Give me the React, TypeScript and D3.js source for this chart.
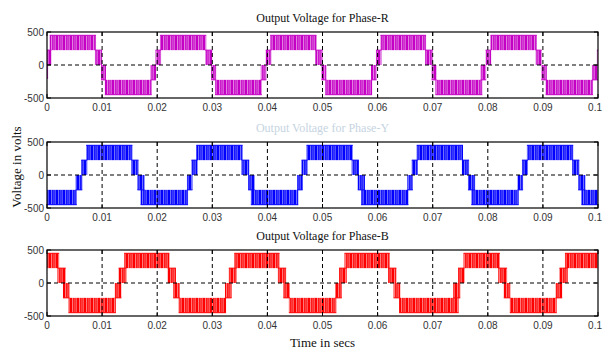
import React from "react";
import * as d3 from "d3";

type Band = [number, number, number, number]; // [t start, t end, low volts, high volts]

const timeTicks = [0, 0.01, 0.02, 0.03, 0.04, 0.05, 0.06, 0.07, 0.08, 0.09, 0.1];
const timeTickLabels = ["0", "0.01", "0.02", "0.03", "0.04", "0.05", "0.06", "0.07", "0.08", "0.09", "0.1"];
const voltTicks = [500, 0, -500];
const voltTickLabels = ["500", "0", "-500"];
const panelTitles = ["Output Voltage for Phase-R", "Output Voltage for Phase-Y", "Output Voltage for Phase-B"];
const xAxisLabel = "Time in secs";
const yAxisLabel = "Voltage in volts";

const phaseRBands: Band[] = [
  [0, 0.0002, -200, 0],
  [0, 0.0008, 0, 225],
  [0.0005, 0.0089, 225, 450],
  [0.0087, 0.01, 0, 225],
  [0.0098, 0.0107, -225, 0],
  [0.0105, 0.019, -450, -225],
  [0.0188, 0.0198, -225, 0],
  [0.0197, 0.0207, 0, 225],
  [0.0205, 0.0289, 225, 450],
  [0.0287, 0.03, 0, 225],
  [0.0298, 0.0307, -225, 0],
  [0.0305, 0.039, -450, -225],
  [0.0388, 0.0398, -225, 0],
  [0.0397, 0.0407, 0, 225],
  [0.0405, 0.0489, 225, 450],
  [0.0487, 0.05, 0, 225],
  [0.0498, 0.0507, -225, 0],
  [0.0505, 0.059, -450, -225],
  [0.0588, 0.0598, -225, 0],
  [0.0597, 0.0607, 0, 225],
  [0.0605, 0.0688, 225, 450],
  [0.0686, 0.07, 0, 225],
  [0.0698, 0.0707, -225, 0],
  [0.0705, 0.079, -450, -225],
  [0.0787, 0.0797, -225, 0],
  [0.0796, 0.0806, 0, 225],
  [0.0805, 0.0889, 225, 450],
  [0.0887, 0.0898, 0, 225],
  [0.0897, 0.0907, -225, 0],
  [0.0905, 0.0991, -450, -225],
  [0.0989, 0.1, -225, 0],
  [0.0998, 0.1, 0, 225],
];

const phaseYBands: Band[] = [
  [0, 0.0054, -450, -225],
  [0.0052, 0.0064, -225, 0],
  [0.0062, 0.0073, 0, 225],
  [0.0071, 0.0155, 225, 450],
  [0.0153, 0.0166, 0, 225],
  [0.0164, 0.0177, -225, 0],
  [0.017, 0.0256, -450, -225],
  [0.0254, 0.0264, -225, 0],
  [0.0262, 0.0273, 0, 225],
  [0.0271, 0.0355, 225, 450],
  [0.0353, 0.0367, 0, 225],
  [0.0365, 0.0377, -225, 0],
  [0.037, 0.0456, -450, -225],
  [0.0454, 0.0464, -225, 0],
  [0.0462, 0.0473, 0, 225],
  [0.0471, 0.0555, 225, 450],
  [0.0553, 0.0566, 0, 225],
  [0.0564, 0.0577, -225, 0],
  [0.057, 0.0656, -450, -225],
  [0.0654, 0.0664, -225, 0],
  [0.0662, 0.0673, 0, 225],
  [0.0671, 0.0755, 225, 450],
  [0.0753, 0.0766, 0, 225],
  [0.0764, 0.0777, -225, 0],
  [0.077, 0.0856, -450, -225],
  [0.0854, 0.0864, -225, 0],
  [0.0862, 0.0873, 0, 225],
  [0.0871, 0.0955, 225, 450],
  [0.0953, 0.0966, 0, 225],
  [0.0964, 0.0977, -225, 0],
  [0.097, 0.1, -450, -225],
];

const phaseBBands: Band[] = [
  [0, 0.0022, 225, 450],
  [0.0019, 0.0034, 0, 225],
  [0.0029, 0.0041, -225, 0],
  [0.0039, 0.0125, -450, -225],
  [0.0123, 0.0135, -225, 0],
  [0.013, 0.0144, 0, 225],
  [0.014, 0.0222, 225, 450],
  [0.0219, 0.0234, 0, 225],
  [0.0229, 0.0241, -225, 0],
  [0.0239, 0.0325, -450, -225],
  [0.0323, 0.0335, -225, 0],
  [0.033, 0.0344, 0, 225],
  [0.034, 0.0422, 225, 450],
  [0.0419, 0.0434, 0, 225],
  [0.0429, 0.0441, -225, 0],
  [0.0439, 0.0525, -450, -225],
  [0.0523, 0.0535, -225, 0],
  [0.053, 0.0544, 0, 225],
  [0.054, 0.0622, 225, 450],
  [0.0619, 0.0634, 0, 225],
  [0.0629, 0.0641, -225, 0],
  [0.0639, 0.0747, -450, -225],
  [0.0737, 0.075, -225, 0],
  [0.0746, 0.0758, 0, 225],
  [0.0756, 0.0822, 225, 450],
  [0.0819, 0.0835, 0, 225],
  [0.0829, 0.0841, -225, 0],
  [0.084, 0.0925, -450, -225],
  [0.0923, 0.0935, -225, 0],
  [0.093, 0.0945, 0, 225],
  [0.094, 0.1, 225, 450],
];

const phaseBands = [phaseRBands, phaseYBands, phaseBBands];
const phaseDark = ["#c400c4", "#0000ff", "#ff0000"];
const phaseLight = ["#e27ee2", "#7070ff", "#ff7a7a"];
const titleColors = ["#111111", "#c6d4e2", "#111111"];

const W = 603;
const H = 352;
const left = 47;
const right = 598;
const panelTops = [32, 142, 250];
const panelH = 66;

export default function App() {
  const x = d3.scaleLinear().domain([0, 0.1]).range([left, right]);
  const lastTick = timeTicks.length - 1;
  return (
    <svg
      width={W}
      height={H}
      style={{ position: "absolute", left: 0, top: 0, background: "#fff" }}
      xmlns="http://www.w3.org/2000/svg"
    >
      <defs>
        {phaseDark.map((c, i) => (
          <pattern key={i} id={`pwm${i}`} patternUnits="userSpaceOnUse" width={7} height={20}>
            <rect width={7} height={20} fill={phaseLight[i]} />
            <rect x={0} width={2} height={20} fill={c} />
            <rect x={3.2} width={1.3} height={20} fill={c} />
            <rect x={5.4} width={0.9} height={20} fill={c} />
          </pattern>
        ))}
        {panelTops.map((t, i) => (
          <clipPath key={i} id={`clip${i}`}>
            <rect x={left} y={t} width={right - left} height={panelH} />
          </clipPath>
        ))}
      </defs>
      <rect width={W} height={H} fill="#fff" />
      {panelTops.map((top, i) => {
        const y = d3.scaleLinear().domain([-500, 500]).range([top + panelH, top]);
        const bands = phaseBands[i];
        return (
          <g key={i}>
            <text
              x={(left + right) / 2}
              y={top - 10}
              textAnchor="middle"
              fontFamily="'Liberation Serif', 'Times New Roman', serif"
              fontSize={12}
              fill={titleColors[i]}
            >
              {panelTitles[i]}
            </text>
            <g clipPath={`url(#clip${i})`}>
              {bands.map((b, j) => (
                <rect
                  key={j}
                  x={x(b[0])}
                  y={y(b[3])}
                  width={Math.max(0.8, x(b[1]) - x(b[0]))}
                  height={y(b[2]) - y(b[3])}
                  fill={`url(#pwm${i})`}
                />
              ))}
              {bands.map((b, j) => {
                const outer = Math.abs(b[3]) > Math.abs(b[2]) ? b[3] : b[2];
                return (
                  <line
                    key={`o${j}`}
                    x1={x(b[0])}
                    x2={x(b[1])}
                    y1={y(outer)}
                    y2={y(outer)}
                    stroke={phaseDark[i]}
                    strokeWidth={1}
                  />
                );
              })}
            </g>
            {timeTicks.slice(1, -1).map((t, j) => (
              <line
                key={`g${j}`}
                x1={x(t)}
                x2={x(t)}
                y1={top}
                y2={top + panelH}
                stroke="#000"
                strokeWidth={1}
                strokeDasharray="4,3"
              />
            ))}
            <line
              x1={left}
              x2={right}
              y1={y(0)}
              y2={y(0)}
              stroke="#000"
              strokeWidth={1}
              strokeDasharray="4,3"
            />
            {timeTicks.map((t, j) => (
              <g key={`t${j}`}>
                <line x1={x(t)} x2={x(t)} y1={top + panelH} y2={top + panelH - 4} stroke="#000" />
                <line x1={x(t)} x2={x(t)} y1={top} y2={top + 4} stroke="#000" />
                <text
                  x={j === lastTick ? W - 1 : x(t)}
                  y={top + panelH + 13}
                  textAnchor={j === lastTick ? "end" : "middle"}
                  fontFamily="'Liberation Sans', Arial, sans-serif"
                  fontSize={10}
                  fill="#333"
                >
                  {timeTickLabels[j]}
                </text>
              </g>
            ))}
            {voltTicks.map((v, j) => (
              <g key={`v${j}`}>
                <line x1={left} x2={left + 4} y1={y(v)} y2={y(v)} stroke="#000" />
                <line x1={right} x2={right - 4} y1={y(v)} y2={y(v)} stroke="#000" />
                <text
                  x={left - 3}
                  y={y(v) + 3.5}
                  textAnchor="end"
                  fontFamily="'Liberation Sans', Arial, sans-serif"
                  fontSize={10}
                  fill="#333"
                >
                  {voltTickLabels[j]}
                </text>
              </g>
            ))}
            <rect x={left} y={top} width={right - left} height={panelH} fill="none" stroke="#000" strokeWidth={1.2} />
          </g>
        );
      })}
      <text
        x={(left + right) / 2}
        y={347}
        textAnchor="middle"
        fontFamily="'Liberation Serif', 'Times New Roman', serif"
        fontSize={13}
        fill="#111"
      >
        {xAxisLabel}
      </text>
      <text
        transform={`translate(21,167) rotate(-90)`}
        textAnchor="middle"
        fontFamily="'Liberation Serif', 'Times New Roman', serif"
        fontSize={13}
        fill="#111"
      >
        {yAxisLabel}
      </text>
    </svg>
  );
}
